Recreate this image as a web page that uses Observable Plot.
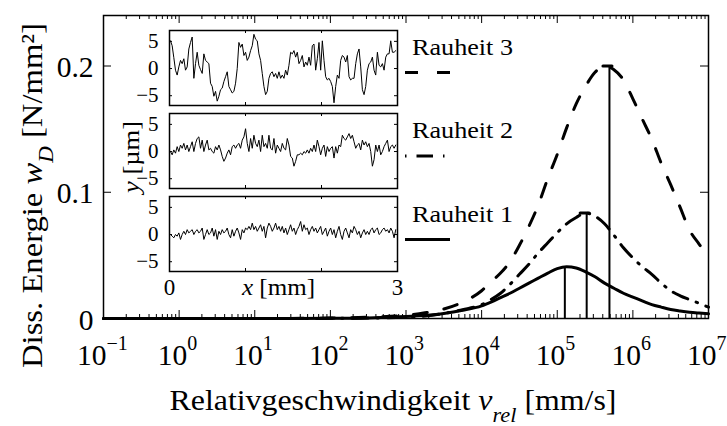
<!DOCTYPE html>
<html><head><meta charset="utf-8">
<script src="https://cdn.jsdelivr.net/npm/d3@7"></script>
<script src="https://cdn.jsdelivr.net/npm/@observablehq/plot@0.6"></script>
<style>
body{margin:0;background:#fff}
#wrap{position:relative;width:727px;height:426px;font-family:"Times New Roman","Liberation Serif",Times,serif;overflow:hidden}
#wrap svg{position:absolute;overflow:visible}
#wrap text{font-family:"Times New Roman","Liberation Serif",Times,serif !important}
</style></head><body><div id="wrap"></div>
<script>
// ---- main chart data ----
const velocity = [0.1, 1, 10, 100, 316, 1000, 1780, 3160, 5620,
  1e4, 1.33e4, 1.78e4, 2.37e4, 3.16e4, 4.22e4, 5.62e4, 7.5e4,
  1e5, 1.33e5, 1.78e5, 2.37e5, 3.16e5, 4.22e5, 5.62e5, 7.5e5,
  1e6, 1.33e6, 1.78e6, 2.37e6, 3.16e6, 4.22e6, 5.62e6, 7.5e6, 1e7];
const energyR3 = [0, 0, 0, 0.0003, 0.001, 0.0025, 0.0045, 0.0075, 0.013,
  0.022, 0.029, 0.036, 0.045, 0.058, 0.073, 0.090, 0.111,
  0.130, 0.151, 0.170, 0.184, 0.195, 0.200, 0.197, 0.189,
  0.174, 0.158, 0.142, 0.123, 0.106, 0.088, 0.070, 0.059, 0.049];
const energyR2 = [0, 0, 0, 0.0001, 0.0003, 0.001, 0.002, 0.004, 0.007,
  0.011, 0.015, 0.020, 0.027, 0.035, 0.043, 0.052, 0.060,
  0.068, 0.075, 0.080, 0.0835, 0.081, 0.075, 0.066, 0.056,
  0.048, 0.041, 0.035, 0.028, 0.022, 0.018, 0.015, 0.012, 0.009];
const energyR1 = [0, 0, 0, 0.0001, 0.0004, 0.0015, 0.0025, 0.004, 0.0065,
  0.010, 0.013, 0.0165, 0.020, 0.024, 0.028, 0.032, 0.036,
  0.0395, 0.041, 0.040, 0.037, 0.033, 0.028, 0.024, 0.020,
  0.017, 0.014, 0.011, 0.009, 0.0072, 0.006, 0.005, 0.0043, 0.0037];
const peakNames = ["Rauheit 1", "Rauheit 2", "Rauheit 3"];
const peakVelocity = [1.26e5, 2.45e5, 4.9e5];
const peakEnergy = [0.041, 0.0835, 0.2];

const xTickValues = [0.1, 1, 10, 100, 1000, 1e4, 1e5, 1e6, 1e7];
const xTickExponents = ["\u22121", "0", "1", "2", "3", "4", "5", "6", "7"];
const yTickValues = [0, 0.1, 0.2];
const yTickLabels = ["0", "0.1", "0.2"];

// ---- inset roughness profiles (y in µm over x = 0..3 mm) ----
const rough3 = [5.1,4.2,2.0,-0.3,-1.2,0.3,1.5,0.9,1.8,-0.3,0.3,3.6,4.8,5.8,-1.8,0.9,3.0,0.6,-0.2,-0.9,
  2.7,1.5,1.2,0.9,-2.7,-3.3,-5.1,-4.2,-6.0,-5.1,-3.9,-3.6,-2.4,-1.5,-0.6,-3.3,-3.9,-4.5,-4.2,-2.7,
  0,4.8,3.9,4.5,2.4,3.0,1.5,2.1,3.3,4.2,6.3,5.4,5.1,2.7,1.5,-0.9,-3.3,-4.8,-4.2,-1.8,
  -0.9,-0.6,-1.5,-0.9,-1.8,-0.6,-1.8,-1.2,-1.8,-0.3,-1.2,0.6,3.0,2.7,3.3,2.1,3.0,0.9,1.5,2.4,
  0.3,1.2,0.6,2.1,0.6,4.2,4.5,-0.3,1.8,4.8,-0.3,5.1,1.5,-1.5,-2.1,-1.8,-2.4,-3.3,-6.3,-3.3,
  -1.2,-1.8,1.5,2.4,2.1,1.2,2.4,-1.5,-2.1,-1.8,-1.8,0.9,2.7,3.6,0.3,-3.9,-4.8,-3.3,-0.3,0.9,
  1.2,2.1,-0.3,-1.2,3.0,0.6,0.3,0.9,-0.3,2.1,2.7,2.7,5.1,3.0,3.0,3.3];
const rough2 = [0,-0.6,0.3,-0.3,0.9,0,1.2,0.6,1.5,0.3,1.2,0,0.9,1.8,0,1.5,2.4,2.7,0.6,2.1,
  0,1.2,2.1,0.3,0.6,0,-0.3,0.9,0.3,1.2,0.3,-0.9,-1.8,-1.2,-0.3,0.3,-0.6,0.9,1.2,0.6,
  1.2,1.5,0.6,2.1,2.7,4.2,1.5,0,2.4,0.6,3.0,1.5,0.9,2.1,0,3.0,0.9,1.5,0.6,3.0,
  0.6,0.3,2.4,-0.3,1.2,0.6,0,1.5,0.6,0.3,2.4,1.2,-0.9,-1.2,-2.7,-1.8,-0.6,-0.6,-0.3,-0.6,
  0,-0.3,0.3,-0.3,0.6,0,1.2,0,2.1,0.9,-0.6,0.6,1.2,-0.9,0.9,0,0.6,0.9,-1.2,0.9,
  -0.3,1.2,0.9,3.0,2.4,2.1,2.7,3.3,2.4,3.0,1.8,0.6,1.2,1.5,0.3,2.1,1.2,1.8,0.9,1.5,
  0,-2.7,-1.5,1.2,0,1.2,-0.6,0,0.9,1.5,2.1,0,0.9,1.2,0.6,1.2];
const rough1 = [0,-0.3,-0.6,0,-0.3,0.3,-0.9,0,0.6,0,0.9,0.3,0.6,0.9,0,0.6,0.9,0.3,0.6,1.2,
  -0.9,0,0.9,0,0.3,1.2,-0.3,0.9,-0.9,0.6,0,0.9,0.3,0.6,1.2,0,-0.6,0.9,-0.3,0.6,
  1.2,0.3,-0.9,0.9,0.3,1.2,0.9,1.5,0.9,2.1,0.9,1.5,0.6,1.2,1.8,0.6,1.5,-0.6,1.2,2.1,
  1.5,0.6,1.2,2.1,0.9,1.5,0.6,1.5,0.3,1.2,0,0.9,1.8,0.6,1.2,0,0.9,1.5,2.4,0.6,
  1.8,0.9,1.2,0,0.9,1.5,0.6,1.2,0.3,0.9,1.5,0,0.6,1.2,-0.3,0.6,1.2,0,0.9,-0.6,
  0.6,1.5,0,-0.9,0.6,1.2,0.3,-0.6,0.9,0.3,1.5,0.9,0,0.6,-0.6,0.3,0.9,0,0.6,0,
  0.9,1.2,0.3,0.9,1.2,0,0.3,0.9,1.2,0.6,0.9,0.3,1.2,0.6,-0.6,0.9];
const insetYTicks = [-5, 0, 5];
const insetYLabels = ["\u22125", "0", "5"];
const insetXLabels = [0, 3];

// ---- build tables ----
const curves = velocity.map((v, i) => ({v, r1: energyR1[i], r2: energyR2[i], r3: energyR3[i]}));
const peaks = peakVelocity.map((v, i) => ({name: peakNames[i], v, w: peakEnergy[i]}));
const xMinor = [];
for (let k = 0; k < xTickValues.length - 1; k++) for (let m = 2; m <= 9; m++) xMinor.push(xTickValues[k] * m);

const W = 727, H = 426, mL = 103, mR = 19, mT = 15, mB = 108;
const fw = W - mL - mR, fh = H - mT - mB;
const FONT = "'Times New Roman', 'Liberation Serif', Times, serif";

const main = Plot.plot({
  width: W, height: H, marginLeft: mL, marginRight: mR, marginTop: mT, marginBottom: mB,
  style: {fontFamily: FONT, background: "transparent", color: "black", overflow: "visible"},
  x: {type: "log", domain: [0.1, 1e7], label: null, axis: null},
  y: {domain: [0, 0.24], label: null, axis: null},
  marks: [
    Plot.tickX(xMinor, {x: d => d, insetTop: fh - 4, strokeWidth: 1}),
    Plot.tickX(xMinor, {x: d => d, insetBottom: fh - 4, strokeWidth: 1}),
    Plot.tickX(xTickValues, {x: d => d, insetTop: fh - 8, strokeWidth: 1}),
    Plot.tickX(xTickValues, {x: d => d, insetBottom: fh - 8, strokeWidth: 1}),
    Plot.tickY(yTickValues, {y: d => d, insetRight: fw - 8, strokeWidth: 1}),
    Plot.tickY(yTickValues, {y: d => d, insetLeft: fw - 8, strokeWidth: 1}),
    Plot.frame({stroke: "black", strokeWidth: 1.5}),
    Plot.text(xTickValues, {x: d => d, frameAnchor: "bottom", text: () => "10", filter: d => d < 1,
      textAnchor: "end", dx: 3, dy: 46, lineAnchor: "bottom", fontSize: 29.5}),
    Plot.text(xTickValues, {x: d => d, frameAnchor: "bottom", text: () => "10", filter: d => d >= 1,
      textAnchor: "end", dx: 8, dy: 46, lineAnchor: "bottom", fontSize: 29.5}),
    Plot.text(xTickValues, {x: d => d, frameAnchor: "bottom", text: (d, i) => xTickExponents[i], filter: d => d < 1,
      textAnchor: "start", dx: 3, dy: 31, lineAnchor: "bottom", fontSize: 20}),
    Plot.text(xTickValues, {x: d => d, frameAnchor: "bottom", text: (d, i) => xTickExponents[i], filter: d => d >= 1,
      textAnchor: "start", dx: 8, dy: 31, lineAnchor: "bottom", fontSize: 20}),
    Plot.text(yTickValues, {y: d => d, frameAnchor: "left", text: (d, i) => yTickLabels[i],
      textAnchor: "end", dx: -10, dy: 11, lineAnchor: "bottom", fontSize: 29.5}),
    Plot.ruleX(peaks, {x: "v", y1: 0, y2: "w", stroke: "black", strokeWidth: 2}),
    Plot.link(peaks.filter(p => p.name !== "Rauheit 1"), {x1: d => d.v / 1.22, x2: d => d.v * 1.08, y1: "w", y2: "w",
      stroke: "black", strokeWidth: 3, strokeLinecap: "round"}),
    Plot.line(curves, {x: "v", y: "r1", curve: "monotone-x", stroke: "black", strokeWidth: 3}),
    Plot.line(curves, {x: "v", y: "r2", curve: "monotone-x", stroke: "black", strokeWidth: 3, strokeDasharray: "16,9,1.5,9"}),
    Plot.line(curves, {x: "v", y: "r3", curve: "monotone-x", stroke: "black", strokeWidth: 3, strokeDasharray: "14,17"})
  ]
});
main.style.left = "0px"; main.style.top = "0px";
document.getElementById("wrap").append(main);

// axis titles
const ms = d3.select(main);
const xl = ms.append("text").attr("x", 393).attr("y", 410).attr("text-anchor", "middle")
  .attr("textLength", 447).attr("lengthAdjust", "spacingAndGlyphs")
  .style("font-size", "30px").attr("fill", "black");
xl.append("tspan").text("Relativgeschwindigkeit ");
xl.append("tspan").style("font-style", "italic").text("v");
xl.append("tspan").style("font-style", "italic").style("font-size", "21px").attr("dy", 12).text("rel");
xl.append("tspan").attr("dy", -12).text(" [mm/s]");

const yl = ms.append("text").attr("transform", "translate(42,195.5) rotate(-90)").attr("text-anchor", "middle")
  .attr("textLength", 345).attr("lengthAdjust", "spacingAndGlyphs")
  .style("font-size", "30px").attr("fill", "black");
yl.append("tspan").text("Diss. Energie ");
yl.append("tspan").style("font-style", "italic").text("w");
yl.append("tspan").style("font-style", "italic").style("font-size", "21px").attr("dy", 11).text("D");
yl.append("tspan").attr("dy", -11).text(" [N/mm\u00b2]");

// ---- inset ----
const profileRows = [["3", rough3], ["2", rough2], ["1", rough1]].flatMap(([p, ys]) =>
  ys.map((y, i) => ({panel: p, x: 0.013 + i * 2.964 / (ys.length - 1), y})));
const iL = 50, iR = 2, iT = 1, iB = 30, iW = 228, iH = 241;
const inset = Plot.plot({
  width: iW + iL + iR, height: iH + iT + iB, marginLeft: iL, marginRight: iR, marginTop: iT, marginBottom: iB,
  style: {fontFamily: FONT, background: "transparent", color: "black", overflow: "visible"},
  x: {domain: [0, 3], label: null, axis: null},
  y: {domain: [-6.8, 7], label: null, axis: null},
  fy: {domain: ["3", "2", "1"], paddingInner: 8 / 83, paddingOuter: 0, axis: null, label: null},
  marks: [
    Plot.tickX([1, 2], {x: d => d, insetTop: 72, strokeWidth: 1}),
    Plot.tickX([1, 2], {x: d => d, insetBottom: 72, strokeWidth: 1}),
    Plot.tickY(insetYTicks, {y: d => d, insetRight: iW - 3, strokeWidth: 1}),
    Plot.tickY(insetYTicks, {y: d => d, insetLeft: iW - 3, strokeWidth: 1}),
    Plot.line(profileRows, {x: "x", y: "y", fy: "panel", stroke: "black", strokeWidth: 1}),
    Plot.frame({stroke: "black", strokeWidth: 1.5}),
    Plot.text(insetYTicks, {y: d => d, frameAnchor: "left", text: (d, i) => insetYLabels[i],
      textAnchor: "end", dx: -11, fontSize: 21}),
    Plot.text(insetXLabels, {x: d => d, fy: () => "1", frameAnchor: "bottom", text: d => String(d),
      dy: 23, lineAnchor: "bottom", fontSize: 23})
  ]
});
inset.style.left = (169 - iL) + "px"; inset.style.top = (30 - iT) + "px";
document.getElementById("wrap").append(inset);

// inset axis titles + legend overlay
const ov = d3.select("#wrap").append("svg").attr("width", W).attr("height", H)
  .style("left", "0px").style("top", "0px");
const ixl = ov.append("text").attr("x", 242).attr("y", 295).attr("text-anchor", "start")
  .attr("textLength", 73).attr("lengthAdjust", "spacingAndGlyphs").style("font-size", "23px");
ixl.append("tspan").style("font-style", "italic").text("x");
ixl.append("tspan").text(" [mm]");
const iyl = ov.append("text").attr("transform", "translate(139,157) rotate(-90)").attr("text-anchor", "middle")
  .attr("textLength", 72).attr("lengthAdjust", "spacingAndGlyphs").style("font-size", "23px");
iyl.append("tspan").style("font-style", "italic").text("y");
iyl.append("tspan").text(" [\u00b5m]");

const legendRows = [
  {name: "Rauheit 3", ty: 55, ly: 72.5, dash: "13,19,13"},
  {name: "Rauheit 2", ty: 138, ly: 156, dash: "1.5,10,16.5,10,1.5,40"},
  {name: "Rauheit 1", ty: 222, ly: 239.5, dash: null}
];
for (const r of legendRows) {
  ov.append("text").attr("x", 412).attr("y", r.ty).style("font-size", "24px")
    .attr("textLength", 101).attr("lengthAdjust", "spacingAndGlyphs").text(r.name);
  const ln = ov.append("line").attr("x1", 405).attr("x2", 450).attr("y1", r.ly).attr("y2", r.ly)
    .attr("stroke", "black").attr("stroke-width", 3);
  if (r.dash) ln.attr("stroke-dasharray", r.dash);
}
</script>
</body></html>
